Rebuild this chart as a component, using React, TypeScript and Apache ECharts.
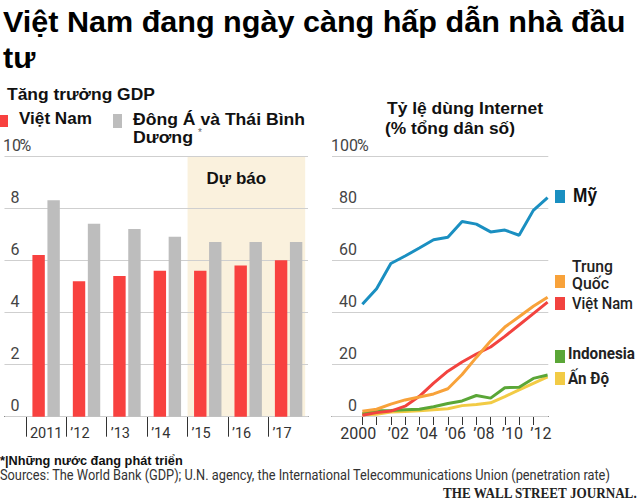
import React, { useEffect, useRef } from 'react';
import * as echarts from 'echarts';

// ---- Left chart: GDP growth ----
const gdpYears = [2011, 2012, 2013, 2014, 2015, 2016, 2017];
const gdpYearLabels = ['2011', '’12', '’13', '’14', '’15', '’16', '’17'];
const vietnamGdp = [6.2, 5.2, 5.4, 5.6, 5.6, 5.8, 6.0];
const eastAsiaGdp = [8.3, 7.4, 7.2, 6.9, 6.7, 6.7, 6.7];
const forecastFrom = 2014.5;
const forecastTo = 2017.41;
const gdpMax = 10;
const gdpInterval = 2;

// ---- Right chart: Internet usage ----
const netYears = [2000, 2001, 2002, 2003, 2004, 2005, 2006, 2007, 2008, 2009, 2010, 2011, 2012, 2013];
const netTickYears = [2000, 2001, 2002, 2003, 2004, 2005, 2006, 2007, 2008, 2009, 2010, 2011, 2012];
const netLabelYears = [2000, 2002, 2004, 2006, 2008, 2010, 2012];
const usNet = [43.1, 49.1, 58.8, 61.7, 64.8, 68.0, 68.9, 75.0, 74.0, 71.0, 71.7, 69.7, 79.3, 84.2];
const chinaNet = [1.8, 2.6, 4.6, 6.2, 7.3, 8.5, 10.5, 16.0, 22.6, 28.9, 34.3, 38.3, 42.3, 45.8];
const vietnamNet = [0.3, 1.3, 1.9, 3.8, 7.6, 12.7, 17.3, 20.8, 23.9, 26.6, 30.7, 35.1, 39.5, 43.9];
const indonesiaNet = [0.9, 2.0, 2.1, 2.4, 2.6, 3.6, 4.8, 5.8, 7.9, 6.9, 10.9, 11.1, 14.5, 15.8];
const indiaNet = [0.5, 0.7, 1.5, 1.7, 2.0, 2.4, 2.8, 4.0, 4.4, 5.1, 7.5, 10.1, 12.6, 15.1];
const netMax = 100;
const netInterval = 20;

const RED = '#f8413f';
const GRAY = '#bdbdbd';
const BAND = '#faf1dd';
const BLUE = '#1a8fc1';
const ORANGE = '#f8a23a';
const NETRED = '#f2433f';
const GREEN = '#5aa637';
const YELLOW = '#f2cb45';

const SANS = '"Liberation Sans", Arial, sans-serif';
const LIGHT = 'Roboto, "Noto Sans", sans-serif';

let measureCtx: CanvasRenderingContext2D | null = null;
function measure(text: string, font: string): number {
  if (!measureCtx && typeof document !== 'undefined') {
    measureCtx = document.createElement('canvas').getContext('2d');
  }
  if (!measureCtx) return 0;
  measureCtx.font = font;
  return measureCtx.measureText(text).width;
}

function fitText(text: string, x: number, cy: number, font: string, width: number | null, fill = '#111', scale?: number) {
  let sx = scale ?? 1;
  if (scale === undefined && width) {
    const w = measure(text, font);
    if (w > 0) sx = width / w;
  }
  return {
    type: 'text',
    x,
    y: cy,
    scaleX: sx,
    style: {
      text,
      font,
      fill,
      align: 'left',
      verticalAlign: 'middle',
      textAlign: 'left',
      textVerticalAlign: 'middle',
    },
  };
}

function rect(x: number, y: number, w: number, h: number, fill: string) {
  return { type: 'rect', shape: { x, y, width: w, height: h }, style: { fill } };
}

function buildOption() {
  const titleFont = `bold 30px ${SANS}`;
  const titleText = 'Việt Nam đang ngày càng hấp dẫn nhà đầu';
  const titleW = measure(titleText, titleFont);
  const titleScale = titleW > 0 ? 623 / titleW : 1;

  const graphic: any[] = [
    fitText(titleText, 3, 22, titleFont, null, '#000', titleScale),
    fitText('tư', 3, 57.5, titleFont, null, '#000', titleScale),
    fitText('Tăng trưởng GDP', 7, 94, `bold 17px ${SANS}`, 148),
    rect(0, 115, 8, 12, RED),
    fitText('Việt Nam', 19, 119, `bold 17px ${SANS}`, 73),
    rect(113, 114, 9, 14, GRAY),
    fitText('Đông Á và Thái Bình', 133, 119, `bold 17px ${SANS}`, 172),
    fitText('Dương', 133, 137, `bold 17px ${SANS}`, 60),
    fitText('*', 198, 132, `10px ${SANS}`, null, '#666'),
    fitText('Tỷ lệ dùng Internet', 387, 108, `bold 17px ${SANS}`, 156),
    fitText('(% tổng dân số)', 385, 128, `bold 17px ${SANS}`, 130),
    rect(555, 190, 10, 13, BLUE),
    fitText('Mỹ', 573, 195, `bold 20px ${SANS}`, 24),
    fitText('Trung', 572, 266, `500 17px ${LIGHT}`, 41, '#222'),
    rect(555, 275, 10, 13, ORANGE),
    fitText('Quốc', 572, 283, `500 17px ${LIGHT}`, 37, '#222'),
    rect(555, 297, 10, 13, NETRED),
    fitText('Việt Nam', 572, 303.5, `500 17px ${LIGHT}`, 61, '#222'),
    rect(555, 350, 10, 13, GREEN),
    fitText('Indonesia', 568, 353.5, `bold 17px ${LIGHT}`, 67, '#222'),
    rect(555, 372, 10, 13, YELLOW),
    fitText('Ấn Độ', 568, 378.5, `bold 17px ${LIGHT}`, 41, '#222'),
    fitText('*|Những nước đang phát triển', 0, 460.7, `bold 12px ${SANS}`, 183, '#111'),
    fitText(
      'Sources: The World Bank (GDP); U.N. agency, the International Telecommunications Union (penetration rate)',
      0,
      474.7,
      `14.5px ${LIGHT}`,
      611,
      '#333'
    ),
    fitText('THE WALL STREET JOURNAL.', 443, 493, `bold 15px "Liberation Serif", serif`, 195, '#222'),
  ];

  const yLabel = (width: number, maxV: number) => ({
    inside: true,
    margin: 0,
    align: 'left',
    verticalAlign: 'bottom',
    padding: [0, 0, 2, 0],
    formatter: (v: number) => (v === maxV ? `{n|${v}}{p|%}` : `{n|${v}}`),
    rich: {
      n: { width, align: 'right', fontSize: 16, fontFamily: LIGHT, color: '#444', lineHeight: 18 },
      p: { fontSize: 16, fontFamily: LIGHT, color: '#444', lineHeight: 18 },
    },
  });

  return {
    animation: false,
    backgroundColor: '#fff',
    graphic,
    grid: [
      { left: 0, top: 156, width: 308, height: 260.7, containLabel: false },
      { left: 332, top: 156.7, width: 216.3, height: 259.3, containLabel: false },
    ],
    xAxis: [
      {
        type: 'value',
        gridIndex: 0,
        min: 2009.97,
        max: 2017.48,
        splitLine: { show: false },
        axisLine: { show: true, lineStyle: { color: '#333', width: 1 } },
        axisTick: {
          show: true,
          length: 20,
          customValues: gdpYears.map((y) => y - 0.5),
          lineStyle: { color: '#333', width: 1 },
        },
        axisLabel: {
          show: true,
          customValues: gdpYears.map((y) => y - 0.5),
          formatter: (v: number) => gdpYearLabels[gdpYears.indexOf(Math.round(v + 0.5))] ?? '',
          align: 'left',
          padding: [0, 0, 0, 4],
          margin: 9,
          fontSize: 14.5,
          fontFamily: LIGHT,
          color: '#333',
        },
      },
      {
        type: 'value',
        gridIndex: 1,
        min: 1997.87,
        max: 2013.05,
        splitLine: { show: false },
        axisLine: { show: true, lineStyle: { color: '#333', width: 1 } },
        axisTick: {
          show: true,
          length: 9,
          customValues: netTickYears,
          lineStyle: { color: '#333', width: 1 },
        },
        axisLabel: {
          show: true,
          customValues: netLabelYears,
          formatter: (v: number) => (v === 2000 ? '{y|2000}' : '{a|’' + String(v).slice(2) + '}'),
          align: 'center',
          margin: 9,
          rich: {
            y: { padding: [0, 8, 0, 0], fontSize: 16, fontFamily: LIGHT, color: '#333' },
            a: { padding: [0, 0, 0, 15], fontSize: 16, fontFamily: LIGHT, color: '#333' },
          },
        },
      },
    ],
    yAxis: [
      {
        type: 'value',
        gridIndex: 0,
        min: 0,
        max: gdpMax,
        interval: gdpInterval,
        z: 2,
        axisLine: { show: false },
        axisTick: { show: false },
        splitLine: { show: true, lineStyle: { color: '#cfcfcf', width: 1 } },
        axisLabel: yLabel(15, gdpMax),
      },
      {
        type: 'value',
        gridIndex: 1,
        min: 0,
        max: netMax,
        interval: netInterval,
        z: 2,
        axisLine: { show: false },
        axisTick: { show: false },
        splitLine: { show: true, lineStyle: { color: '#cfcfcf', width: 1 } },
        axisLabel: yLabel(25, netMax),
      },
    ],
    series: [
      {
        name: 'Việt Nam',
        type: 'bar',
        xAxisIndex: 0,
        yAxisIndex: 0,
        z: 3,
        barWidth: 12.4,
        barGap: '21%',
        itemStyle: { color: RED },
        data: gdpYears.map((y, i) => [y, vietnamGdp[i]]),
        markArea: {
          silent: true,
          itemStyle: { color: BAND },
          label: {
            show: true,
            position: [19, 14],
            formatter: 'Dự báo',
            fontSize: 17,
            fontWeight: 'bold',
            fontFamily: SANS,
            color: '#111',
          },
          data: [[{ xAxis: forecastFrom, yAxis: 0 }, { xAxis: forecastTo, yAxis: gdpMax }]],
        },
      },
      {
        name: 'Đông Á và Thái Bình Dương',
        type: 'bar',
        xAxisIndex: 0,
        yAxisIndex: 0,
        z: 3,
        barWidth: 12.4,
        barGap: '21%',
        itemStyle: { color: GRAY },
        data: gdpYears.map((y, i) => [y, eastAsiaGdp[i]]),
      },
      ...[
        { name: 'Ấn Độ', data: indiaNet, color: YELLOW },
        { name: 'Indonesia', data: indonesiaNet, color: GREEN },
        { name: 'Việt Nam (Internet)', data: vietnamNet, color: NETRED },
        { name: 'Trung Quốc', data: chinaNet, color: ORANGE },
        { name: 'Mỹ', data: usNet, color: BLUE },
      ].map((s) => ({
        name: s.name,
        type: 'line',
        xAxisIndex: 1,
        yAxisIndex: 1,
        z: 3,
        symbol: 'none',
        lineStyle: { color: s.color, width: 3 },
        itemStyle: { color: s.color },
        data: netYears.map((y, i) => [y, s.data[i]]),
      })),
    ],
  };
}

export default function App() {
  const ref = useRef<HTMLDivElement>(null);
  useEffect(() => {
    if (!ref.current) return;
    const chart = echarts.init(ref.current, null, { renderer: 'svg' });
    chart.setOption(buildOption() as any);
    return () => chart.dispose();
  }, []);
  return (
    <div
      ref={ref}
      style={{ position: 'fixed', left: 0, top: 0, width: 640, height: 502, background: '#fff' }}
    />
  );
}
